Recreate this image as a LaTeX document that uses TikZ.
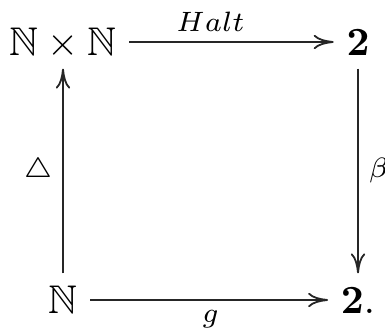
\documentclass[tikz,border=0pt]{standalone}
\usepackage{amsmath}
\usepackage{amssymb}
\usetikzlibrary{arrows.meta,calc}
\tikzset{
  obj/.style={inner sep=3pt, text height=6.9pt, text depth=0pt},
  maparrow/.style={-{To[length=5pt,width=3.6pt]}, line width=0.45pt, draw=black!85},
  maplabel/.style={font=\scriptsize, inner sep=2.5pt}
}
\begin{document}
\begin{tikzpicture}[x=0.25pt,y=-0.25pt]
    \useasboundingbox (0,0) rectangle (385,331);

    \node[obj] (nxn) at (63,42) {$\mathbb{N}\times\mathbb{N}$};
    \node[obj] (two) at (358,42) {$\mathbf{2}$};
    \node[obj] (nat) at (63,300) {$\mathbb{N}$};
    \node[obj] (twodot) at (358,300) {$\mathbf{2}.$};

    \draw[maparrow] (nxn) -- (two);
    \draw[maparrow] (nat) -- (nxn);
    \draw[maparrow] (two) -- (twodot);
    \draw[maparrow] (nat) -- (twodot);

    \node[maplabel, above] (lhalt) at ($(nxn)!0.5!(two)$) {$Halt$};
    \node[maplabel, left] (ldiag) at ($(nat)!0.5!(nxn)$) {$\triangle$};
    \node[maplabel, right] (lbeta) at ($(two)!0.5!(twodot)$) {$\beta$};
    \node[maplabel, below] (lg) at ($(nat)!0.5!(twodot)$) {$g$};
\end{tikzpicture}
\end{document}
